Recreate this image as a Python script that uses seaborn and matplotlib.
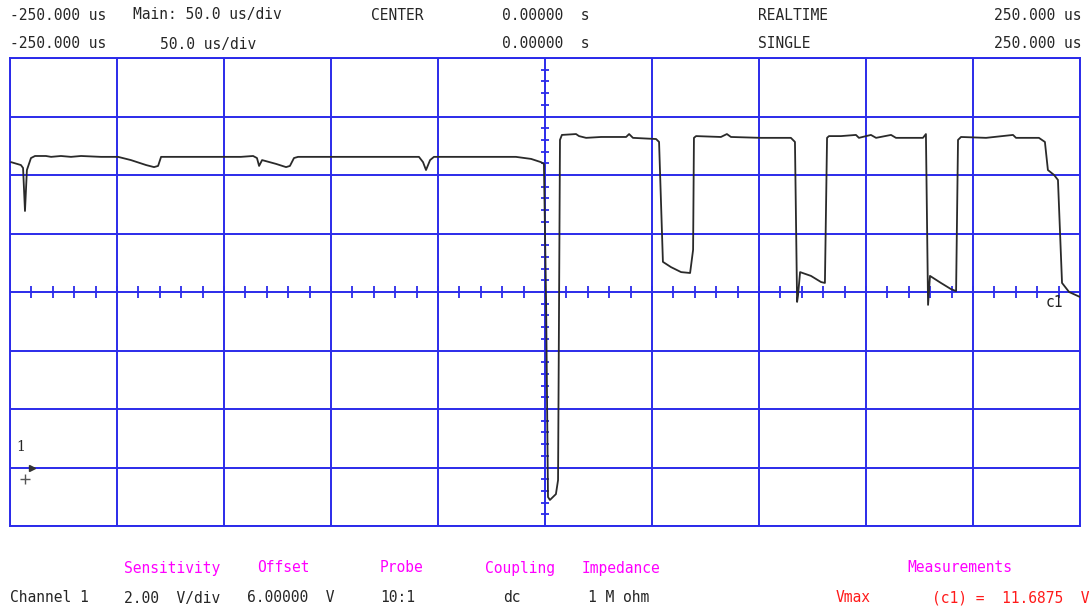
import matplotlib.pyplot as plt
import seaborn as sns
import numpy as np
import pandas as pd

# waveform: time in us, level in V
TIME_US = [-249.5, -244.9, -243.9, -243.0, -242.1, -240.2, -238.3, -233.2, -230.8, -226.2,
           -221.5, -216.8, -207.5, -199.5, -193.5, -186.4, -182.7, -180.8, -179.4, -160.7,
           -142.1, -136.4, -134.6, -133.6, -132.2, -125.7, -121.0, -119.2, -117.3, -115.4,
           -100.0, -76.6, -58.9, -57.0, -55.6, -53.7, -51.9, -29.9, -13.6, -6.5,
           -1.9, -0.5, 0.5, 1.4, 2.3, 5.1, 6.1, 7.0, 7.9, 14.5,
           15.9, 19.2, 26.2, 37.9, 39.3, 41.1, 51.9, 53.3, 55.1, 58.9,
           63.6, 67.8, 69.2, 69.6, 70.6, 82.2, 85.0, 86.9, 100.9, 114.9,
           116.8, 117.8, 118.2, 119.2, 124.3, 129.0, 130.8, 131.8, 132.7, 138.3,
           145.3, 146.7, 152.3, 154.7, 161.7, 164.0, 176.6, 178.0, 179.0, 179.9,
           185.0, 189.7, 192.1, 193.0, 194.4, 206.1, 218.7, 220.1, 230.8, 233.6,
           235.0, 237.9, 239.7, 241.6, 244.9, 250.0]
VOLTS = [10.44, 10.34, 10.24, 8.77, 10.17, 10.58, 10.65, 10.65, 10.62, 10.65,
         10.62, 10.65, 10.62, 10.62, 10.51, 10.34, 10.27, 10.31, 10.62, 10.62,
         10.62, 10.65, 10.58, 10.31, 10.51, 10.38, 10.27, 10.31, 10.58, 10.62,
         10.62, 10.62, 10.62, 10.44, 10.17, 10.51, 10.62, 10.62, 10.62, 10.55,
         10.44, 10.38, 5.73, -1.01, -1.11, -0.91, -0.43, 11.20, 11.37, 11.40,
         11.33, 11.27, 11.30, 11.30, 11.40, 11.27, 11.23, 11.13, 7.03, 6.85,
         6.68, 6.65, 7.44, 11.27, 11.33, 11.30, 11.40, 11.30, 11.27, 11.27,
         11.13, 5.66, 5.86, 6.68, 6.55, 6.34, 6.31, 11.27, 11.33, 11.33,
         11.37, 11.27, 11.37, 11.27, 11.37, 11.27, 11.27, 11.40, 5.56, 6.55,
         6.31, 6.10, 6.03, 11.20, 11.30, 11.27, 11.37, 11.27, 11.27, 11.13,
         10.17, 10.00, 9.83, 6.31, 6.00, 5.83]

HEADER_ROW1 = [("-250.000 us", 10, "left"), ("Main: 50.0 us/div", 133, "left"),
               ("CENTER", 371, "left"), ("0.00000  s", 502, "left"),
               ("REALTIME", 758, "left"), ("250.000 us", 1081, "right")]
HEADER_ROW2 = [("-250.000 us", 10, "left"), ("50.0 us/div", 160, "left"),
               ("0.00000  s", 502, "left"), ("SINGLE", 758, "left"),
               ("250.000 us", 1081, "right")]
FOOT_LABELS = [("Sensitivity", 124), ("Offset", 257), ("Probe", 380),
               ("Coupling", 485), ("Impedance", 582), ("Measurements", 907)]
FOOT_VALUES = [("Channel 1", 10), ("2.00  V/div", 124), ("6.00000  V", 247),
               ("10:1", 380), ("dc", 503), ("1 M ohm", 588)]
MEAS = [("Vmax", 836), ("(c1) =  11.6875  V", 932)]

W, H = 1092, 608
BLUE = '#2b2bea'

sns.set_style("white")
plt.rcParams['font.family'] = ['DejaVu Sans Mono']

df = pd.DataFrame({'t': TIME_US, 'v': VOLTS})

fig = plt.figure(figsize=(W / 100, H / 100), dpi=100)
ax = fig.add_axes([10 / W, 1 - 526 / H, 1070 / W, 468 / H])

# graticule
for x in np.arange(-250, 251, 50):
    ax.axvline(x, color=BLUE, lw=1.4, zorder=1)
for y in np.arange(-2, 15, 2):
    ax.axhline(y, color=BLUE, lw=1.4, zorder=1)
tx = np.arange(-240, 250, 10)
ax.plot(tx, np.full_like(tx, 6.0, dtype=float), ls='none', marker='|', ms=9,
        mew=1.3, color=BLUE, zorder=1)
ty = np.arange(-2, 14.01, 0.4)
ax.plot(np.zeros_like(ty), ty, ls='none', marker='_', ms=6, mew=1.3,
        color=BLUE, zorder=1)

sns.lineplot(data=df, x='t', y='v', ax=ax, color='#2a2a2a', lw=1.3,
             sort=False, estimator=None, zorder=3)

ax.set_xlim(-250, 250)
ax.set_ylim(-2, 14)
ax.set_xticks([])
ax.set_yticks([])
ax.set_xlabel('')
ax.set_ylabel('')
for s in ax.spines.values():
    s.set_color(BLUE)
    s.set_linewidth(1.4)

# ground marker and cursor label
ax.text(-247, 0.7, '1', fontsize=10, family='DejaVu Serif', va='center')
ax.plot([-243], [-0.4], marker='+', ms=7, color='#555555', mew=1, zorder=3)
ax.plot([-239.5], [0.0], marker='>', ms=4, color='#333333', zorder=3)
ax.text(234, 5.65, 'c1', fontsize=10.5, va='center', color='#222222')

fs = 10.5
for txt, x, ha in HEADER_ROW1:
    fig.text(x / W, 1 - 15 / H, txt, fontsize=fs, ha=ha, va='center')
for txt, x, ha in HEADER_ROW2:
    fig.text(x / W, 1 - 44 / H, txt, fontsize=fs, ha=ha, va='center')
for txt, x in FOOT_LABELS:
    fig.text(x / W, 1 - 568 / H, txt, fontsize=fs, color='#ff00ff', va='center')
for txt, x in FOOT_VALUES:
    fig.text(x / W, 1 - 598 / H, txt, fontsize=fs, va='center')
for txt, x in MEAS:
    fig.text(x / W, 1 - 598 / H, txt, fontsize=fs, color='#ff1a1a', va='center')

fig.savefig('out.png', dpi=100)
plt.close(fig)
